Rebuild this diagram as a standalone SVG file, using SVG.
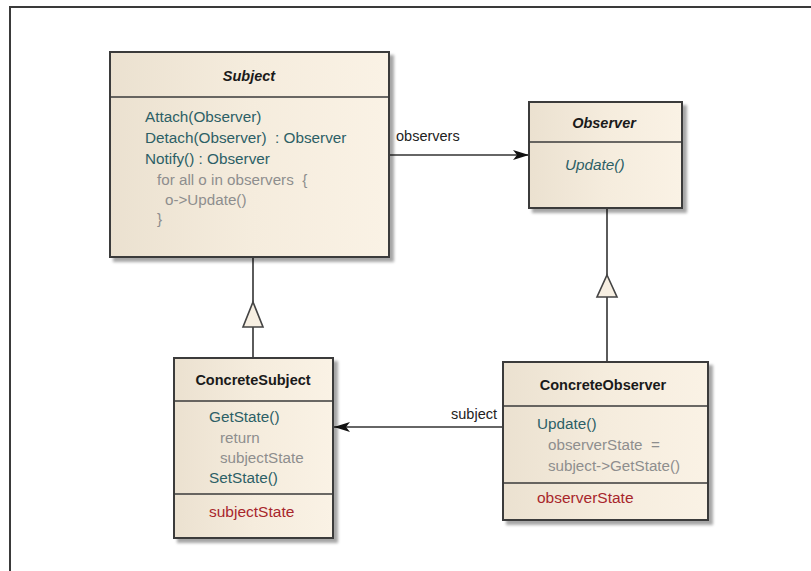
<svg xmlns="http://www.w3.org/2000/svg" width="811" height="571" viewBox="0 0 811 571">
<defs>
  <linearGradient id="fillg" x1="0" y1="0" x2="1" y2="0">
    <stop offset="0" stop-color="#ebe1d0"/>
    <stop offset="0.5" stop-color="#f5ecdd"/>
    <stop offset="1" stop-color="#faf2e5"/>
  </linearGradient>
  <filter id="sh" x="-5%" y="-5%" width="115%" height="115%">
    <feGaussianBlur in="SourceAlpha" stdDeviation="1.5"/>
    <feOffset dx="4" dy="4" result="b"/>
    <feComponentTransfer><feFuncA type="linear" slope="0.35"/></feComponentTransfer>
    <feMerge><feMergeNode/><feMergeNode in="SourceGraphic"/></feMerge>
  </filter>
  <marker id="filled" markerWidth="16" markerHeight="12" refX="16" refY="6" orient="auto" markerUnits="userSpaceOnUse">
    <path d="M0,1 L16,6 L0,11 L4,6 Z" fill="#111"/>
  </marker>
</defs>
<style>
  .box { fill: url(#fillg); stroke: #3a3a3a; stroke-width: 2; filter: url(#sh); }
  .div { stroke: #3a3a3a; stroke-width: 1.5; }
  .t { font-family: "Liberation Sans", Arial, sans-serif; }
  .title { font-weight: bold; font-size: 14.5px; fill: #1a1a1a; text-anchor: middle; }
  .ital { font-style: italic; }
  .m { font-size: 15.3px; fill: #2c5f66; }
  .g { font-size: 15.2px; fill: #8e8e8e; }
  .a { font-size: 15.5px; fill: #a8262c; }
  .lbl { font-size: 14.5px; fill: #222; }
  .ln { stroke: #333; stroke-width: 1.6; fill: none; }
  .tri { fill: #f7efe2; stroke: #444; stroke-width: 1.6; }
</style>
<rect x="0" y="0" width="811" height="571" fill="#ffffff"/>
<path d="M10,571 L10,7 L811,7" fill="none" stroke="#3a3a3a" stroke-width="2"/>

<g id="connectors">
  <line class="ln" x1="390" y1="155" x2="529" y2="155" marker-end="url(#filled)"/>
  <text class="t lbl" x="396" y="141">observers</text>
  <line class="ln" x1="503" y1="427" x2="334" y2="427" marker-end="url(#filled)"/>
  <text class="t lbl" x="497" y="419" text-anchor="end">subject</text>
  <line class="ln" x1="253" y1="258" x2="253" y2="302"/>
  <line class="ln" x1="253" y1="327" x2="253" y2="358"/>
  <path class="tri" d="M253,302 L263,327 L243,327 Z"/>
  <line class="ln" x1="607" y1="209" x2="607" y2="275"/>
  <line class="ln" x1="607" y1="297" x2="607" y2="362"/>
  <path class="tri" d="M607,275 L617,297 L597,297 Z"/>
</g>

<g id="Subject">
  <rect class="box" x="110" y="52" width="279" height="205"/>
  <line class="div" x1="110" y1="97" x2="389" y2="97"/>
  <text class="t title ital" x="249" y="81">Subject</text>
  <text class="t m" x="145" y="122">Attach(Observer)</text>
  <text class="t m" x="145" y="143" xml:space="preserve">Detach(Observer)  : Observer</text>
  <text class="t m" x="145" y="164">Notify() : Observer</text>
  <text class="t g" x="157" y="185" xml:space="preserve">for all o in observers  {</text>
  <text class="t g" x="165" y="205" font-size="14.4">o-&gt;Update()</text>
  <text class="t g" x="157" y="224">}</text>
</g>

<g id="Observer">
  <rect class="box" x="529" y="102" width="153" height="106"/>
  <line class="div" x1="529" y1="142" x2="682" y2="142"/>
  <text class="t title ital" x="604" y="128">Observer</text>
  <text class="t m ital" x="565" y="170">Update()</text>
</g>

<g id="ConcreteSubject">
  <rect class="box" x="174" y="358" width="159" height="180"/>
  <line class="div" x1="174" y1="401" x2="333" y2="401"/>
  <line class="div" x1="174" y1="494" x2="333" y2="494"/>
  <text class="t title" x="253" y="385" font-size="14.5">ConcreteSubject</text>
  <text class="t m" x="209" y="422">GetState()</text>
  <text class="t g" x="220" y="443">return</text>
  <text class="t g" x="220" y="463">subjectState</text>
  <text class="t m" x="209" y="483">SetState()</text>
  <text class="t a" x="209" y="517">subjectState</text>
</g>

<g id="ConcreteObserver">
  <rect class="box" x="503" y="362" width="205" height="158"/>
  <line class="div" x1="503" y1="406" x2="708" y2="406"/>
  <line class="div" x1="503" y1="483" x2="708" y2="483"/>
  <text class="t title" x="603" y="390" font-size="14.5">ConcreteObserver</text>
  <text class="t m" x="537" y="429">Update()</text>
  <text class="t g" x="548" y="450" xml:space="preserve">observerState  =</text>
  <text class="t g" x="548" y="471">subject-&gt;GetState()</text>
  <text class="t a" x="537" y="503">observerState</text>
</g>
</svg>
